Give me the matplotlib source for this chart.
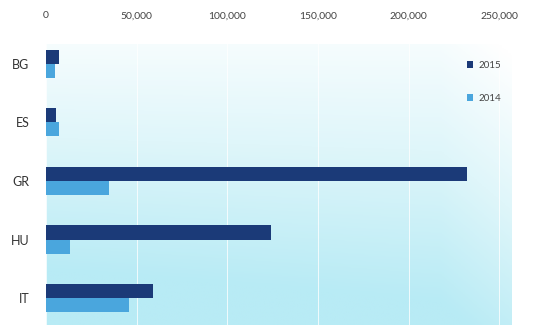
import numpy as np
import matplotlib.pyplot as plt
from matplotlib.colors import LinearSegmentedColormap

countries = ["BG", "ES", "GR", "HU", "IT"]
vals_2015 = [7000, 5500, 232000, 124000, 59000]
vals_2014 = [5000, 7000, 35000, 13000, 46000]
xticks = [0, 50000, 100000, 150000, 200000, 250000]

plt.rcParams['font.family'] = ['Lato', 'DejaVu Sans']

fig = plt.figure(figsize=(5.33, 3.29), dpi=100)
ax = fig.add_axes([46 / 533, 4 / 329, 466 / 533, 281 / 329])

# background gradient: white top-left -> light cyan bottom
xlim = (0, 257000)
ylim = (4.46, -0.34)
gx = np.linspace(0, 1, 200)
gy = np.linspace(0, 1, 200)
GX, GY = np.meshgrid(gx, gy)
g = np.clip(0.15 + 0.9 * GY + 0.15 * (1 - GX) * GY - 0.3 * np.clip(GX - 0.85, 0, 1) * 4, 0, 1)
cmap = LinearSegmentedColormap.from_list("bg", ["#ffffff", "#dff6fa", "#b8ebf5"])
ax.imshow(g, cmap=cmap, extent=[xlim[0], xlim[1], ylim[0], ylim[1]],
          aspect="auto", zorder=0, vmin=0, vmax=1)

y = np.arange(len(countries))
h = 0.24
ax.barh(y - h / 2, vals_2015, height=h, color="#1b3a78", label="2015", zorder=3)
ax.barh(y + h / 2, vals_2014, height=h, color="#4aa6dd", label="2014", zorder=3)

ax.set_xlim(*xlim)
ax.set_ylim(*ylim)
ax.set_yticks(y)
ax.set_yticklabels(countries, fontsize=9, color="#333333")
ax.set_xticks(xticks)
ax.set_xticklabels([f"{v:,}" for v in xticks], fontsize=7.5, color="#444444")
ax.xaxis.tick_top()
ax.tick_params(length=0, pad=12, axis="y")
ax.tick_params(length=0, pad=17, axis="x")
ax.grid(axis="x", color="white", linewidth=0.7, alpha=0.8, zorder=1)
for s in ax.spines.values():
    s.set_visible(False)

ax.legend(loc="upper right", bbox_to_anchor=(0.995, 0.97), frameon=False,
          fontsize=7, handlelength=0.7, handleheight=0.7, labelspacing=2.4,
          handletextpad=0.5, labelcolor="#444444")

fig.savefig("out.png", dpi=100)
